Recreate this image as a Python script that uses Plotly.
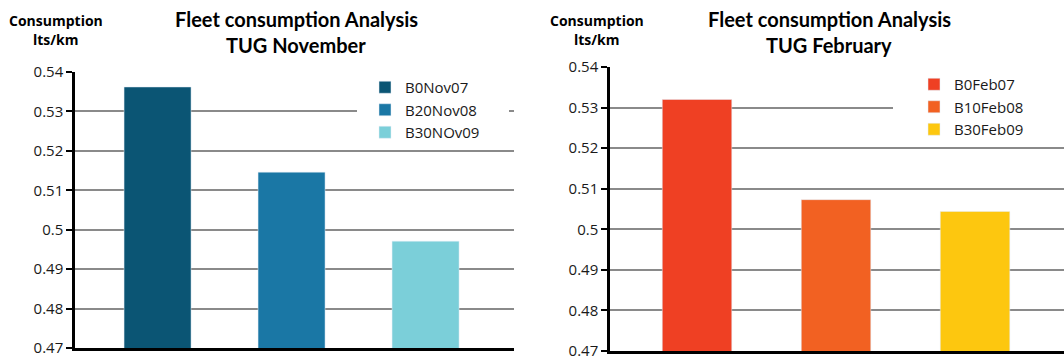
import plotly.graph_objects as go

# ---- data ----
nov_series = ["B0Nov07", "B20Nov08", "B30NOv09"]
nov_values = [0.5362, 0.5146, 0.4971]
feb_series = ["B0Feb07", "B10Feb08", "B30Feb09"]
feb_values = [0.5320, 0.5073, 0.5044]
y_ticks = [0.47, 0.48, 0.49, 0.50, 0.51, 0.52, 0.53, 0.54]
y_tick_labels = ["0.47", "0.48", "0.49", "0.5", "0.51", "0.52", "0.53", "0.54"]
titles = [("Fleet consumption Analysis", "TUG November"),
          ("Fleet consumption Analysis", "TUG February")]
unit_label = ("Consumption", "lts/km")

nov_colors = ["#0B5574", "#1A77A5", "#7BCFD9"]
feb_colors = ["#EF4023", "#F26122", "#FDC70F"]

W, H = 1064, 359
def px(x):
    return x / W
def py(y):
    return 1 - y / H

fig = go.Figure()
for i, (name, val) in enumerate(zip(nov_series, nov_values)):
    fig.add_trace(go.Bar(x=[i], y=[val], name=name, marker_color=nov_colors[i],
                         width=0.5, xaxis="x", yaxis="y", legend="legend"))
for i, (name, val) in enumerate(zip(feb_series, feb_values)):
    fig.add_trace(go.Bar(x=[i], y=[val], name=name, marker_color=feb_colors[i],
                         width=0.5, xaxis="x2", yaxis="y2", legend="legend2"))

tickfont = dict(family="Open Sans", size=15, color="#1a1a1a")
yaxis_common = dict(range=[0.47, 0.54], tickvals=y_ticks, ticktext=y_tick_labels,
                    showgrid=True, gridcolor="#8a8a8a", gridwidth=2,
                    showline=True, linecolor="black", linewidth=2.5,
                    ticks="outside", ticklen=6, tickwidth=2, tickcolor="black",
                    tickfont=tickfont, zeroline=False, fixedrange=True, automargin=False,
                    ticklabeloverflow="allow")
xaxis_common = dict(showline=True, linecolor="black", linewidth=2.5,
                    showticklabels=False, showgrid=False, zeroline=False,
                    ticks="", automargin=False, fixedrange=True)

legend_font = dict(family="Open Sans", size=15, color="#1a1a1a")
fig.update_layout(
    width=W, height=H, autosize=False,
    margin=dict(l=0, r=0, t=0, b=0, pad=0),
    paper_bgcolor="white", plot_bgcolor="white",
    showlegend=True,
    xaxis=dict(domain=[px(75), px(514)], range=[-0.616, 2.66], anchor="y", **xaxis_common),
    yaxis=dict(domain=[py(348), py(72)], anchor="x", **yaxis_common),
    xaxis2=dict(domain=[px(610), 1.0], range=[-0.626, 2.64], anchor="y2", **xaxis_common),
    yaxis2=dict(domain=[py(351), py(67)], anchor="x2", **yaxis_common),
    legend=dict(x=px(365), y=py(71), xanchor="left", yanchor="top",
                bgcolor="rgba(0,0,0,0)", font=legend_font, itemwidth=30, tracegroupgap=0),
    legend2=dict(x=px(914), y=py(68), xanchor="left", yanchor="top",
                 bgcolor="rgba(0,0,0,0)", font=legend_font, itemwidth=30, tracegroupgap=0),
    shapes=[
        dict(type="rect", xref="paper", yref="paper", x0=px(357), x1=px(509),
             y0=py(148), y1=py(74), fillcolor="white", line_width=0, layer="above"),
        dict(type="rect", xref="paper", yref="paper", x0=px(893), x1=1.0,
             y0=py(146), y1=py(69), fillcolor="white", line_width=0, layer="above"),
    ],
)

title_font = dict(family="Lato", size=20, color="black", weight="bold")
unit_font = dict(family="Open Sans", size=14, color="black", weight="bold")
anns = []
for (t1, t2), cx in zip(titles, [296, 829]):
    anns.append(dict(text=t1, x=px(cx), y=py(19), xref="paper", yref="paper",
                     showarrow=False, xanchor="center", yanchor="middle", font=title_font))
    anns.append(dict(text=t2, x=px(cx), y=py(45), xref="paper", yref="paper",
                     showarrow=False, xanchor="center", yanchor="middle", font=title_font))
for cx in [56, 597]:
    anns.append(dict(text=unit_label[0], x=px(cx), y=py(20), xref="paper", yref="paper",
                     showarrow=False, xanchor="center", yanchor="middle", font=unit_font))
    anns.append(dict(text=unit_label[1], x=px(cx), y=py(39), xref="paper", yref="paper",
                     showarrow=False, xanchor="center", yanchor="middle", font=unit_font))
fig.update_layout(annotations=anns)

fig.write_html("out.html", config={"displayModeBar": False},
               post_script="document.body.style.margin='0';document.body.style.overflow='hidden';")
